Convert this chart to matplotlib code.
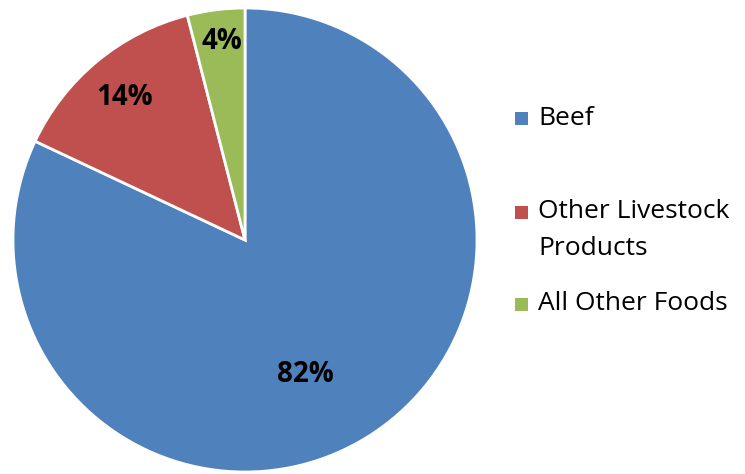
import matplotlib.pyplot as plt
from matplotlib.patches import Rectangle

plt.rcParams['font.family'] = ['Open Sans', 'DejaVu Sans']

# 食品別シェア（%）
categories = ['Beef', 'Other Livestock\nProducts', 'All Other Foods']
shares = [82, 14, 4]
colors = ['#4F81BD', '#C0504D', '#9BBB59']

fig = plt.figure(figsize=(7.45, 4.74), dpi=100)
fig.patch.set_facecolor('white')

# 円グラフ本体（正方形の領域に配置）
ax = fig.add_axes([13 / 745, 2 / 474, 464 / 745, 464 / 474])
wedges, _ = ax.pie(shares, colors=colors, startangle=90, counterclock=False,
                   wedgeprops=dict(edgecolor='white', linewidth=2))
ax.set_xlim(-1.0, 1.0)
ax.set_ylim(-1.0, 1.0)
ax.set_aspect('auto')
ax.axis('off')

# データラベル
label_pos = [(0.26, -0.58), (-0.52, 0.615), (-0.10, 0.855)]
for v, (x, y) in zip(shares, label_pos):
    ax.text(x, y, f'{v}%', ha='center', va='center', fontsize=20,
            fontweight='bold', color='black')

# 凡例（手動配置）: マーカーは1行目に揃える
marker_y = [118, 212, 304]
text_y = [118, 230, 304]
for w, lab, my, ty in zip(wedges, categories, marker_y, text_y):
    myf = 1 - my / 474
    fig.patches.append(Rectangle((515 / 745, myf - 6.5 / 474), 13 / 745, 13 / 474,
                                 transform=fig.transFigure,
                                 facecolor=w.get_facecolor(), edgecolor='none'))
    fig.text(538 / 745, 1 - ty / 474, lab, ha='left', va='center',
             fontsize=19, color='black', linespacing=1.6,
             transform=fig.transFigure)

fig.savefig('out.png', dpi=100, facecolor='white')
